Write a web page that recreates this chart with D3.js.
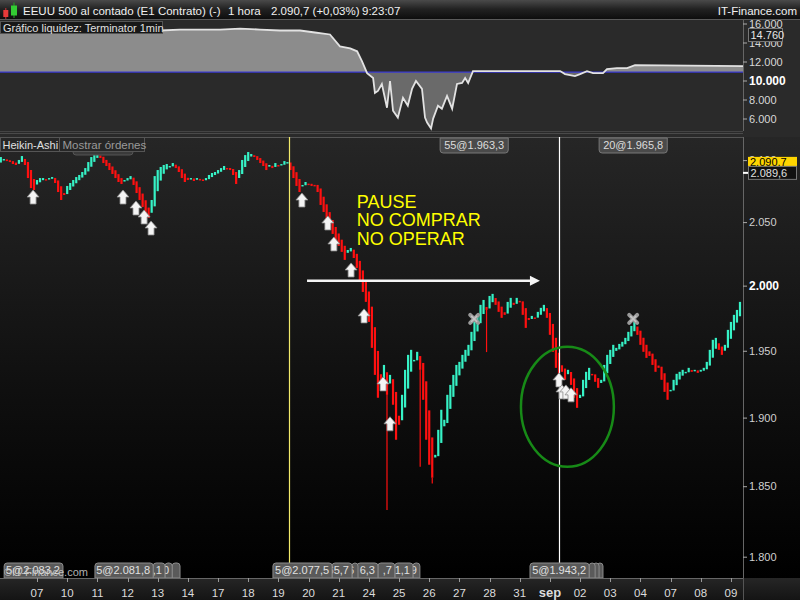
<!DOCTYPE html>
<html>
<head>
<meta charset="utf-8">
<script src="https://cdn.jsdelivr.net/npm/d3@7"></script>
<style>
  body { margin: 0; background: #000; }
  text { font-family: "Liberation Sans", Arial, sans-serif; }
</style>
</head>
<body>
<script>
// ---- data ----
// trading days on the time axis (label sits on the first bar of the day)
var dayLabels = ["07","10","11","12","13","14","17","18","19","20","21","24","25","26","27","28","31","sep","02","03","04","07","08","09"];
var boldLabels = ["sep"];
var firstDayBar = 12;
var barsPerDay = 10;

// Heikin-Ashi close, one value per bar (first 12 bars = end of 06)
var haClose = [
  2102.5,2100.9,2099.2,2098.4,2096.8,2096.0,2100.1,2103.3,2096.0,2085.4,2077.3,2075.7,
  2083.8,2085.4,2085.4,2083.8,2085.4,2086.2,2081.4,2074.1,2067.7,2071.7,
  2079.0,2081.4,2083.8,2086.2,2087.9,2090.3,2093.5,2098.4,2102.5,2105.0,
  2105.8,2101.7,2097.6,2095.2,2091.9,2088.7,2085.4,2082.2,2080.6,2083.8,
  2085.4,2087.0,2079.8,2073.3,2067.7,2062.1,2055.7,2053.3,2067.7,2087.0,
  2091.9,2094.4,2096.0,2096.8,2095.2,2097.6,2093.5,2090.3,2085.4,2082.2,
  2083.8,2085.4,2083.0,2085.4,2083.8,2083.0,2085.4,2087.9,2089.5,2090.3,
  2091.9,2093.5,2095.2,2093.5,2091.9,2087.9,2080.6,2091.9,2100.1,2104.1,
  2106.6,2105.0,2102.5,2100.1,2097.6,2095.2,2091.9,2096.0,2093.5,2097.6,
  2095.2,2096.8,2099.2,2098.4,2091.9,2085.4,2079.0,2074.1,2079.8,2082.2,
  2080.6,2079.0,2079.8,2074.1,2063.7,2058.1,2051.7,2045.3,2040.6,2035.8,
  2031.1,2026.4,2020.1,2027.9,2029.5,2021.6,2013.8,2004.4,1995.1,1987.4,
  1972.0,1952.2,1931.8,1914.7,1924.3,1939.3,1916.9,1931.8,1909.5,1883.7,
  1894.7,1916.9,1935.6,1946.9,1950.7,1943.1,1949.2,1935.6,1913.2,1883.7,
  1865.5,1856.1,1872.7,1891.0,1905.8,1898.4,1916.9,1924.3,1931.8,1939.3,
  1941.6,1946.9,1950.7,1954.5,1964.4,1972.0,1977.4,1985.1,1988.9,1981.2,
  1992.0,1993.6,1985.1,1979.7,1975.1,1977.4,1987.4,1990.5,1985.1,1990.5,
  1987.4,1977.4,1967.4,1973.5,1976.6,1975.1,1979.7,1982.8,1985.1,1975.1,
  1962.1,1949.2,1937.1,1929.6,1934.1,1928.1,1935.6,1924.3,1914.7,1907.2,
  1916.9,1928.1,1934.1,1937.1,1931.8,1926.6,1922.1,1928.1,1939.3,1946.9,
  1950.7,1954.5,1952.2,1955.2,1956.8,1959.8,1964.4,1968.9,1972.0,1962.1,
  1954.5,1949.2,1944.6,1946.1,1939.3,1934.1,1937.1,1928.1,1919.1,1913.2,
  1920.6,1928.1,1932.6,1934.1,1935.6,1934.1,1937.1,1934.1,1935.6,1933.3,
  1935.6,1937.1,1941.6,1950.7,1958.3,1959.8,1950.7,1946.9,1954.5,1965.9,
  1972.0,1977.4,1981.2,1987.4
];
var haStartOpen = 2098;
// long lower shadows [bar, low]
var wickLows = [[128, 1833], [139, 1864], [143, 1852], [161, 1949]];

var priceTicks = [1800, 1850, 1900, 1950, 2000, 2050, 2100];
var lastPrice = 2089.6;
var quotePrice = "2.090,7";

// buy arrows [bar, tip price], exits [bar, price]
var buyArrows = [[10.7,2075.7],[40.5,2075.7],[44.8,2066.9],[47.5,2059.7],[49.8,2050.9],
  [99.8,2073.3],[108.4,2054.9],[110.4,2038.2],[116.1,2017.7],[120.4,1982.0],
  [126.7,1930.3],[129,1900.6],[185,1933.3],[186,1924.3],[187.3,1924.3],[189,1922.1]];
var exitMarks = [[156.9,1974.3],[209.6,1974.3]];
var exitLabels = ["55@1.963,3", "20@1.965,8"];
var orderLines = [95.5, 185];
var orderLineColors = ["#f2ea6a", "#ffffff"];

// order tags on the bottom edge: [left bar, right bar, visible text]
var bottomTags = [
  [1.1, 20.6, "5@2.083,2"],
  [31.2, 50.5, "5@2.081,8"], [50.5, 54.4, ",1"], [54.4, 56.8, "0"], [56.8, 59.4, ""],
  [90.2, 109.8, "5@2.077,5"], [109.8, 116.4, "65,7"], [116.4, 118.1, "6"], [118.1, 125.0, "6,3"],
  [125.0, 130.6, ",7"], [130.6, 136.6, "1,1"], [136.6, 138.9, "9"],
  [175.4, 195.0, "5@1.943,2"], [195.0, 196.3, ""], [196.3, 197.6, ""], [197.6, 198.9, ""]
];

// annotations
var pauseLines = ["PAUSE", "NO COMPRAR", "NO OPERAR"];
var pauseAt = [118, 2061.3];
var moveArrow = [101.5, 178.7, 2003.7];
var circleAt = {bar: 187.8, price: 1908, halfBars: 15.4, top: 1953, bottom: 1864};

// liquidity panel
var liqTicks = [6000, 8000, 10000, 12000, 14000, 16000];
var liqBaseline = 10886;
var liqLast = "14.760";
var liqBars = [-0.3,6.4,13,19.6,26.2,32.9,39.5,46.1,52.8,59.4,66,72.7,79.3,85.9,92.5,99.2,104.1,109.1,
  112.4,115.8,118.1,119.7,121.4,123.4,124.0,125.0,126.3,128.0,129.0,130.0,131.6,133.3,134.9,136.3,
  137.6,139.6,140.6,141.3,142.6,143.3,144.9,146.2,147.9,149.6,151.2,152.9,153.9,154.9,156.5,
  185.4,187.0,190.3,192.0,194.3,196.3,199.6,200.9,204.2,207.6,210.2,246];
var liqValues = [15469,15365,15469,15365,15261,15365,15469,15365,15261,15365,15365,15365,15469,15365,15261,15261,15052,14844,
  13594,13386,13073,12032,10781,10261,8698,8906,9636,7136,9948,6823,6094,8177,7344,9115,
  9948,9115,6094,5573,4948,5990,7344,7031,8385,7031,9636,9740,10261,9740,10990,
  10990,10677,10469,10677,10990,10781,10781,11198,11303,11303,11615,11511];

// ---- layout ----
var W = 800, H = 600;
var plotRight = 743;
var liqTop = 20, liqBottom = 131;
var mainTop = 137, mainBottom = 578;

var x = d3.scaleLinear().domain([-0.27, 246]).range([0, plotRight]);
var yMain = d3.scaleLog().domain([1800, 2100]).range([556.7, 160.1]);
var yLiq = d3.scaleLinear().domain([6000, 16000]).range([118.5, 23.5]);

var fmt = function(v) { return d3.format(",.0f")(v).replace(",", "."); };
var fmtP = function(v) { return d3.format(",.3f")(v / 1000).replace(",", ""); };

var svg = d3.select("body").append("svg")
  .attr("width", W)
  .attr("height", H);
var defs = svg.append("defs");

function vGrad(id, stops) {
  var g = defs.append("linearGradient").attr("id", id)
    .attr("x1", 0).attr("y1", 0).attr("x2", 0).attr("y2", 1);
  stops.forEach(function(s) { g.append("stop").attr("offset", s[0]).attr("stop-color", s[1]); });
}
vGrad("hdr", [["0%", "#4a4a4a"], ["45%", "#222"], ["100%", "#0b0b0b"]]);
vGrad("mainbg", [["0%", "#262626"], ["60%", "#0e0e0e"], ["100%", "#000"]]);
vGrad("axbg", [["0%", "#262626"], ["100%", "#141414"]]);

defs.append("clipPath").attr("id", "clipMain").append("rect")
  .attr("x", 0).attr("y", mainTop).attr("width", plotRight).attr("height", mainBottom - mainTop);
defs.append("clipPath").attr("id", "clipAbove").append("rect")
  .attr("x", 0).attr("y", liqTop).attr("width", plotRight).attr("height", yLiq(liqBaseline) - liqTop);
defs.append("clipPath").attr("id", "clipBelow").append("rect")
  .attr("x", 0).attr("y", yLiq(liqBaseline)).attr("width", plotRight).attr("height", liqBottom - yLiq(liqBaseline));

// ---- liquidity panel ----
svg.append("rect").attr("x", 0).attr("y", liqTop).attr("width", W).attr("height", mainTop - liqTop).attr("fill", "#2a2a2a");

var liqPts = liqBars.map(function(b, i) { return [b, liqValues[i]]; });
var liqArea = d3.area()
  .x(function(d) { return x(d[0]); })
  .y0(yLiq(liqBaseline))
  .y1(function(d) { return yLiq(d[1]); });
svg.append("path").datum(liqPts).attr("d", liqArea).attr("fill", "#8c8c8c").attr("clip-path", "url(#clipAbove)");
svg.append("path").datum(liqPts).attr("d", liqArea).attr("fill", "#6a6a6a").attr("clip-path", "url(#clipBelow)");
svg.append("line").attr("x1", 0).attr("x2", plotRight)
  .attr("y1", yLiq(liqBaseline)).attr("y2", yLiq(liqBaseline))
  .attr("stroke", "#3a3ad0").attr("stroke-width", 1.2);
svg.append("path").datum(liqPts)
  .attr("d", d3.line().x(function(d) { return x(d[0]); }).y(function(d) { return yLiq(d[1]); }))
  .attr("fill", "none").attr("stroke", "#e2e2e2").attr("stroke-width", 1.8);

svg.append("line").attr("x1", plotRight + 0.5).attr("x2", plotRight + 0.5).attr("y1", liqTop).attr("y2", liqBottom).attr("stroke", "#666");
svg.append("line").attr("x1", 0).attr("x2", plotRight).attr("y1", liqBottom + 0.5).attr("y2", liqBottom + 0.5).attr("stroke", "#444");

var liqAxis = svg.append("g").attr("transform", "translate(" + plotRight + ",0)")
  .call(d3.axisRight(yLiq).tickValues(liqTicks).tickSize(4).tickFormat(fmt));
liqAxis.select(".domain").remove();
liqAxis.selectAll("line").attr("stroke", "#aaa");
liqAxis.selectAll("text")
  .attr("x", 6)
  .style("font-size", function(d) { return d === 10000 ? "12px" : "11px"; })
  .style("font-weight", function(d) { return d === 10000 ? "bold" : "normal"; })
  .attr("fill", function(d) { return d === 10000 ? "#fff" : "#d8d8d8"; });

svg.append("rect").attr("x", 748.5).attr("y", 28.5).attr("width", 34).attr("height", 13)
  .attr("fill", "#1e1e1e").attr("stroke", "#777");
svg.append("text").attr("x", 750.5).attr("y", 39).attr("fill", "#e6e6e6").style("font-size", "11px").text(liqLast);

svg.append("rect").attr("x", 0.5).attr("y", 21.5).attr("width", 162).attr("height", 12)
  .attr("fill", "#181818").attr("stroke", "#555");
svg.append("text").attr("x", 3).attr("y", 31.5).attr("fill", "#e0e0e0").style("font-size", "11px")
  .text("Gráfico liquidez: Terminator 1min");

// ---- main price panel ----
svg.append("line").attr("x1", 0).attr("x2", plotRight).attr("y1", 133.5).attr("y2", 133.5).attr("stroke", "#4a4a4a");
svg.append("rect").attr("x", 0).attr("y", mainTop).attr("width", W).attr("height", mainBottom - mainTop).attr("fill", "url(#mainbg)");
svg.append("line").attr("x1", 0).attr("x2", plotRight).attr("y1", mainTop + 0.5).attr("y2", mainTop + 0.5).attr("stroke", "#555");
svg.append("line").attr("x1", plotRight + 0.5).attr("x2", plotRight + 0.5).attr("y1", mainTop).attr("y2", mainBottom).attr("stroke", "#666");

// Heikin-Ashi candles
var candles = [];
var prevO = haStartOpen, prevC = haStartOpen;
haClose.forEach(function(c, i) {
  var o = i === 0 ? haStartOpen : (prevO + prevC) / 2;
  candles.push({ i: i, o: o, c: c });
  prevO = o; prevC = c;
});
var up = "#36f2c6", down = "#ff1010";

var plot = svg.append("g").attr("clip-path", "url(#clipMain)");
plot.selectAll(".wick").data(wickLows).enter().append("line")
  .attr("x1", function(d) { return x(d[0]); })
  .attr("x2", function(d) { return x(d[0]); })
  .attr("y1", function(d) { var k = candles[d[0]]; return yMain(Math.min(k.o, k.c)); })
  .attr("y2", function(d) { return yMain(d[1]); })
  .attr("stroke", function(d) { var k = candles[d[0]]; return k.c >= k.o ? up : down; })
  .attr("stroke-width", 1.2);
plot.selectAll(".bar").data(candles).enter().append("rect")
  .attr("x", function(d) { return x(d.i) - 1.1; })
  .attr("width", 2.2)
  .attr("y", function(d) { return yMain(Math.max(d.o, d.c)); })
  .attr("height", function(d) { return Math.max(1.5, yMain(Math.min(d.o, d.c)) - yMain(Math.max(d.o, d.c))); })
  .attr("fill", function(d) { return d.c >= d.o ? up : down; });

// order lines
svg.selectAll(".oline").data(orderLines).enter().append("line")
  .attr("x1", function(d) { return Math.round(x(d)) + 0.5; })
  .attr("x2", function(d) { return Math.round(x(d)) + 0.5; })
  .attr("y1", mainTop).attr("y2", mainBottom)
  .attr("stroke", function(d, i) { return orderLineColors[i]; })
  .attr("stroke-width", 1.2);

// PAUSE annotation
svg.selectAll(".pause").data(pauseLines).enter().append("text")
  .attr("x", x(pauseAt[0]))
  .attr("y", function(d, i) { return yMain(pauseAt[1]) + i * 18.5; })
  .attr("fill", "#ffff00")
  .style("font-size", "18px")
  .text(function(d) { return d; });

// horizontal arrow
var ay = yMain(moveArrow[2]);
svg.append("line").attr("x1", x(moveArrow[0])).attr("x2", x(moveArrow[1]) - 7)
  .attr("y1", ay).attr("y2", ay).attr("stroke", "#f4f4f4").attr("stroke-width", 2.5);
svg.append("path")
  .attr("d", "M" + x(moveArrow[1]) + "," + ay + "l-10,-5l0,10z")
  .attr("fill", "#f4f4f4");

// green circle
svg.append("ellipse")
  .attr("cx", x(circleAt.bar))
  .attr("cy", (yMain(circleAt.top) + yMain(circleAt.bottom)) / 2)
  .attr("rx", x(circleAt.bar + circleAt.halfBars) - x(circleAt.bar))
  .attr("ry", (yMain(circleAt.bottom) - yMain(circleAt.top)) / 2)
  .attr("fill", "none").attr("stroke", "#178a17").attr("stroke-width", 2.5);

// buy arrows
svg.selectAll(".buy").data(buyArrows).enter().append("path")
  .attr("transform", function(d) { return "translate(" + x(d[0]) + "," + yMain(d[1]) + ")"; })
  .attr("d", "M0,0L6,7L3,7L3,14L-3,14L-3,7L-6,7Z")
  .attr("fill", "#f4f4f4").attr("stroke", "#8a8a8a").attr("stroke-width", 0.8);

// exit crosses
var ex = svg.selectAll(".exit").data(exitMarks).enter().append("g")
  .attr("transform", function(d) { return "translate(" + x(d[0]) + "," + yMain(d[1]) + ")"; });
ex.append("path").attr("d", "M-4,-4L4,4M4,-4L-4,4")
  .attr("stroke", "#9a9a9a").attr("stroke-width", 4).attr("stroke-linecap", "round");
ex.append("path").attr("d", "M-3,-3L3,3M3,-3L-3,3")
  .attr("stroke", "#c4c4c4").attr("stroke-width", 1.5);

// exit tags on the top edge
var topTags = svg.selectAll(".ttag").data(exitMarks).enter().append("g");
topTags.each(function(d, i) {
  var g = d3.select(this);
  var t = g.append("text").attr("y", mainTop + 12).attr("fill", "#dcdcdc")
    .style("font-size", "11px").attr("text-anchor", "middle").attr("x", x(d[0])).text(exitLabels[i]);
  var w = t.node().getComputedTextLength() + 8;
  g.insert("path", "text")
    .attr("d", "M" + (x(d[0]) - w / 2) + "," + (mainTop + 1) + "v12a3,3 0 0 0 3,3h" + (w - 6) + "a3,3 0 0 0 3,-3v-12z")
    .attr("fill", "#4a4a4a").attr("stroke", "#787878");
});

// order tags on the bottom edge (left ones lie on top, so draw right to left)
d3.range(bottomTags.length).reverse().forEach(function(i) {
  var tg = bottomTags[i];
  var left = x(tg[0]), right = x(tg[1]);
  var g = svg.append("g");
  g.append("path")
    .attr("d", "M" + left + "," + mainBottom + "v-12a3,3 0 0 1 3,-3h" + Math.max(0, right - left - 6) + "a3,3 0 0 1 3,3v12z")
    .attr("fill", "#5a5a5a").attr("stroke", "#8c8c8c");
  if (tg[2]) {
    g.append("text").attr("x", right - 3).attr("y", mainBottom - 4).attr("text-anchor", "end")
      .attr("fill", "#e0e0e0").style("font-size", "11px").text(tg[2]);
  }
});
svg.append("text").attr("x", 4).attr("y", 576).attr("fill", "#cfcfcf").attr("opacity", 0.85)
  .style("font-size", "11px").text("©IT-Finance.com");

// price axis
var pAxis = svg.append("g").attr("transform", "translate(" + plotRight + ",0)")
  .call(d3.axisRight(yMain).tickValues(priceTicks).tickSize(4).tickFormat(fmtP));
pAxis.select(".domain").remove();
pAxis.selectAll("line").attr("stroke", "#aaa");
pAxis.selectAll("text")
  .attr("x", 6)
  .style("font-size", function(d) { return d === 2000 ? "12px" : "11px"; })
  .style("font-weight", function(d) { return d === 2000 ? "bold" : "normal"; })
  .attr("fill", function(d) { return d === 2000 ? "#fff" : "#d0d0d0"; });

// last price tags
var ly = yMain(lastPrice);
svg.append("rect").attr("x", 748).attr("y", ly - 16).attr("width", 49).attr("height", 11).attr("fill", "#ffd500");
svg.append("text").attr("x", 750).attr("y", ly - 6.5).attr("fill", "#000").style("font-size", "11px").text(quotePrice);
svg.append("rect").attr("x", 748.5).attr("y", ly - 6.5).attr("width", 48).attr("height", 13)
  .attr("fill", "#111").attr("stroke", "#777");
svg.append("text").attr("x", 750.5).attr("y", ly + 4.5).attr("fill", "#e0e0e0").style("font-size", "11px")
  .text(d3.format(".1f")(lastPrice).replace(/(\d)(\d{3})\./, "$1.$2,"));
svg.append("line").attr("x1", plotRight).attr("x2", 748).attr("y1", ly).attr("y2", ly).attr("stroke", "#fff").attr("stroke-width", 2);

// time axis
svg.append("rect").attr("x", 0).attr("y", mainBottom).attr("width", W).attr("height", H - mainBottom).attr("fill", "url(#axbg)");
svg.append("line").attr("x1", 0).attr("x2", plotRight + 1).attr("y1", mainBottom + 0.5).attr("y2", mainBottom + 0.5).attr("stroke", "#666");
svg.append("line").attr("x1", plotRight + 0.5).attr("x2", plotRight + 0.5).attr("y1", mainBottom).attr("y2", H).attr("stroke", "#555");
var days = dayLabels.map(function(d, j) { return { label: d, bar: firstDayBar + j * barsPerDay }; });
svg.selectAll(".dtick").data(days).enter().append("line")
  .attr("x1", function(d) { return Math.round(x(d.bar)) + 0.5; })
  .attr("x2", function(d) { return Math.round(x(d.bar)) + 0.5; })
  .attr("y1", mainBottom).attr("y2", mainBottom + 4)
  .attr("stroke", "#999");
svg.selectAll(".dlab").data(days).enter().append("text")
  .attr("x", function(d) { return x(d.bar); })
  .attr("y", 597)
  .attr("text-anchor", "middle")
  .attr("fill", "#dcdcdc")
  .style("font-size", function(d) { return boldLabels.indexOf(d.label) >= 0 ? "13px" : "11.5px"; })
  .style("font-weight", function(d) { return boldLabels.indexOf(d.label) >= 0 ? "bold" : "normal"; })
  .text(function(d) { return d.label; });

// panel tabs
svg.append("path").attr("d", "M73,150v2a3,3 0 0 0 3,3h54a3,3 0 0 0 3,-3v-2z").attr("fill", "#3a3a3a").attr("stroke", "#555");
svg.append("rect").attr("x", 0.5).attr("y", 137.5).attr("width", 59).attr("height", 14).attr("fill", "#262626").attr("stroke", "#555");
svg.append("text").attr("x", 2.5).attr("y", 148.5).attr("fill", "#e0e0e0").style("font-size", "11px").text("Heikin-Ashi");
svg.append("rect").attr("x", 59.5).attr("y", 137.5).attr("width", 85).attr("height", 14).attr("fill", "#262626").attr("stroke", "#555");
svg.append("text").attr("x", 62.5).attr("y", 148.5).attr("fill", "#9a9a9a").style("font-size", "11.5px").text("Mostrar órdenes");

// ---- header (drawn last so it covers the clipped top label) ----
svg.append("rect").attr("x", 0).attr("y", 0).attr("width", W).attr("height", 20).attr("fill", "url(#hdr)");
svg.append("line").attr("x1", 0).attr("x2", W).attr("y1", 19.5).attr("y2", 19.5).attr("stroke", "#5a5a5a");
// little candle icon
svg.append("line").attr("x1", 5.8).attr("x2", 5.8).attr("y1", 8).attr("y2", 19).attr("stroke", "#c33");
svg.append("rect").attr("x", 3.3).attr("y", 10).attr("width", 5).attr("height", 7).attr("fill", "#e83a3a");
svg.append("line").attr("x1", 14).attr("x2", 14).attr("y1", 2.5).attr("y2", 18).attr("stroke", "#2a2");
svg.append("rect").attr("x", 11).attr("y", 5.5).attr("width", 6).attr("height", 10).attr("fill", "#33cc33");

var header = [[23, "EEUU 500 al contado (E1 Contrato) (-)"], [228, "1 hora"], [271, quotePrice + " (+0,03%)"], [362, "9:23:07"]];
svg.selectAll(".hdr").data(header).enter().append("text")
  .attr("x", function(d) { return d[0]; })
  .attr("y", 15)
  .attr("fill", "#f0f0f0")
  .style("font-size", "11.5px")
  .text(function(d) { return d[1]; });
svg.append("text").attr("x", 797).attr("y", 15).attr("text-anchor", "end")
  .attr("fill", "#f0f0f0").style("font-size", "11.5px").text("IT-Finance.com");
</script>
</body>
</html>
